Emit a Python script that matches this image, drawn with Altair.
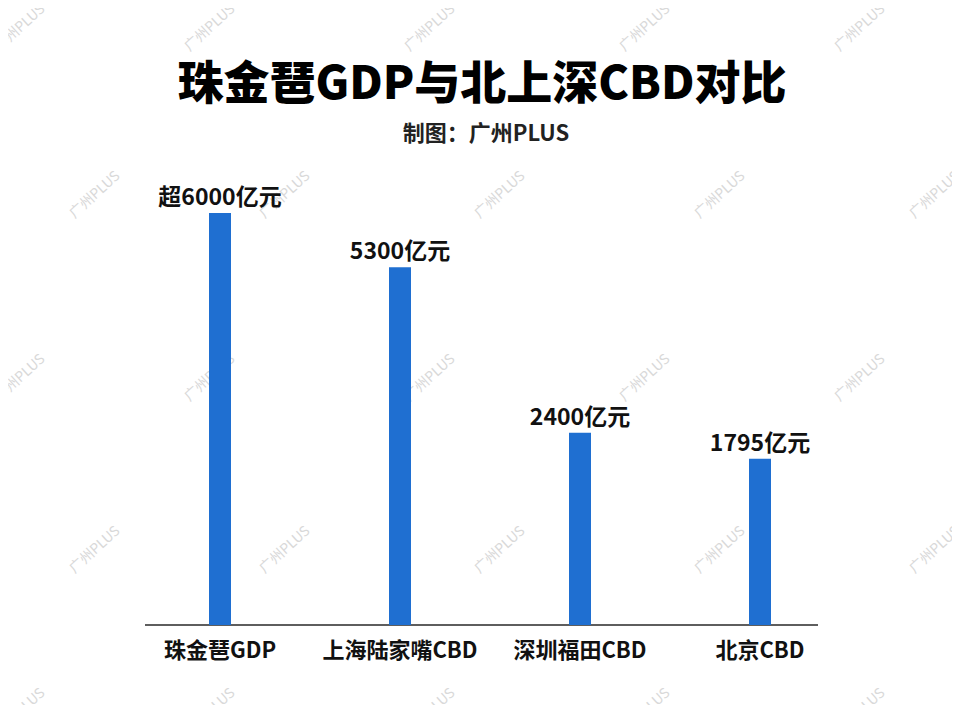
import altair as alt
import pandas as pd

title_text = "珠金琶GDP与北上深CBD对比"
subtitle_text = "制图：广州PLUS"
categories = ["珠金琶GDP", "上海陆家嘴CBD", "深圳福田CBD", "北京CBD"]
value_labels = ["超6000亿元", "5300亿元", "2400亿元", "1795亿元"]
# bar lengths as drawn in the picture (not to scale with the labels), in 亿元-like units
bar_lengths = [6000, 5210, 2800, 2420]

df = pd.DataFrame({"cat": categories, "len": bar_lengths, "label": value_labels})

FONT = "Noto Sans CJK SC"
W, H = 720, 455
LEFT, TOP = 122, 162
RIGHT, BOTTOM = 944 - LEFT - W, 697 - TOP - H

x = alt.X("cat:N", sort=categories, title=None,
          scale=alt.Scale(paddingInner=0, paddingOuter=0),
          axis=alt.Axis(labelFont=FONT, labelFontSize=22, labelFontWeight="bold",
                        labelColor="#111111", labelPadding=15, ticks=False,
                        domain=False, labelAngle=0))
y = alt.Y("len:Q", title=None, scale=alt.Scale(domain=[0, 6626], nice=False),
          axis=None)

bars = alt.Chart(df).mark_bar(size=22, color="#1F6FD1").encode(x=x, y=y)
labels = alt.Chart(df).mark_text(font=FONT, fontSize=23, fontWeight="bold",
                                 baseline="bottom", dy=-3, color="#111111").encode(
    x=alt.X("cat:N", sort=categories), y="len:Q", text="label:N")
axis_line = alt.Chart(df).mark_rule(color="#555555", strokeWidth=1).encode(
    x=alt.value(15), x2=alt.value(688), y=alt.value(H))

# title block as text marks
tdf = pd.DataFrame({"t": [title_text]})
sdf = pd.DataFrame({"t": [subtitle_text]})
title_mark = alt.Chart(tdf).mark_text(
    font=FONT, fontSize=46, fontWeight=900, color="#000000", baseline="middle").encode(
    x=alt.value(352), y=alt.value(-85), text="t:N")
subtitle_mark = alt.Chart(sdf).mark_text(
    font=FONT, fontSize=22, fontWeight="bold", color="#222222", baseline="middle").encode(
    x=alt.value(356), y=alt.value(-36), text="t:N")

# faint repeated watermark (decoration)
wm_rows = []
row_ys = [28, 195, 378, 550, 712]
for i, py in enumerate(row_ys):
    xs = [20, 210, 430, 645, 860] if i % 2 == 0 else [95, 285, 500, 720, 935]
    for px in xs:
        wm_rows.append({"px": px - 8 - LEFT, "py": py - 8 - TOP, "t": "广州PLUS"})
wm = alt.Chart(pd.DataFrame(wm_rows)).mark_text(
    font=FONT, fontSize=14, angle=318, color="#d0d0d0", opacity=0.8).encode(
    x=alt.X("px:Q", scale=None), y=alt.Y("py:Q", scale=None), text="t:N")

chart = alt.layer(wm, axis_line, bars, labels, title_mark, subtitle_mark).properties(
    width=W, height=H,
    background="white",
    autosize=alt.AutoSizeParams(type="none"),
    padding={"left": LEFT, "top": TOP, "right": RIGHT, "bottom": BOTTOM},
).configure_view(strokeWidth=0, stroke="transparent")

chart.save("out.html", embed_options={"renderer": "svg", "actions": False})
